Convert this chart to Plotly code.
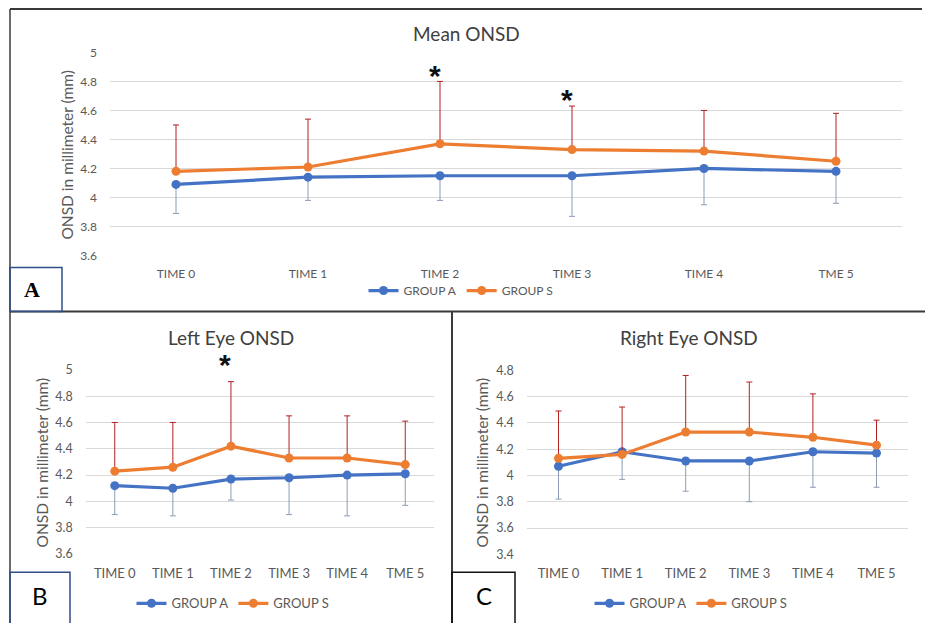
import plotly.graph_objects as go

# ---------------- data ----------------
categories = ["TIME 0", "TIME 1", "TIME 2", "TIME 3", "TIME 4", "TME 5"]

mean_a = [4.09, 4.14, 4.15, 4.15, 4.20, 4.18]
mean_a_err_minus = [0.20, 0.16, 0.17, 0.28, 0.25, 0.22]
mean_s = [4.18, 4.21, 4.37, 4.33, 4.32, 4.25]
mean_s_err_plus = [0.32, 0.33, 0.43, 0.30, 0.28, 0.33]

left_a = [4.12, 4.10, 4.17, 4.18, 4.20, 4.21]
left_a_err_minus = [0.22, 0.21, 0.16, 0.28, 0.31, 0.24]
left_s = [4.23, 4.26, 4.42, 4.33, 4.33, 4.28]
left_s_err_plus = [0.37, 0.34, 0.49, 0.32, 0.32, 0.33]

right_a = [4.07, 4.18, 4.11, 4.11, 4.18, 4.17]
right_a_err_minus = [0.25, 0.21, 0.23, 0.31, 0.27, 0.26]
right_s = [4.13, 4.16, 4.33, 4.33, 4.29, 4.23]
right_s_err_plus = [0.36, 0.36, 0.43, 0.38, 0.33, 0.19]

no_err = [0, 0, 0, 0, 0, 0]

yticks_ab = [3.6, 3.8, 4.0, 4.2, 4.4, 4.6, 4.8, 5.0]
yticktext_ab = ["3.6", "3.8", "4", "4.2", "4.4", "4.6", "4.8", "5"]
yticks_c = [3.4, 3.6, 3.8, 4.0, 4.2, 4.4, 4.6, 4.8]
yticktext_c = ["3.4", "3.6", "3.8", "4", "4.2", "4.4", "4.6", "4.8"]

star_a = ["TIME 2", "TIME 3"]
star_b = ["TIME 2"]

titles = ["Mean ONSD", "Left Eye ONSD", "Right Eye ONSD"]
ytitle = "ONSD in millimeter (mm)"
group_names = ["GROUP A", "GROUP S"]

# ---------------- styling ----------------
W, H = 925, 623
FONT = "Lato"
BLUE = "#4472C4"
ORANGE = "#ED7D31"
RED_ERR = "#B42020"
BLUE_ERR = "#8C9DB5"
GRID = "#D9D9D9"
TXT = "#595959"

# vertical calibration of the photographed page
VS, VO = 0.9765, 7.3


def fx(px):
    return px / W


def fy(py):
    return 1 - ((py - VO) / VS) / H


def sh(px):
    return px / VS


fig = go.Figure()

panels = [
    ("", 110, 902, 51.7, 255, [3.6, 5.0], yticks_ab, yticktext_ab,
     (mean_a, mean_a_err_minus, mean_s, mean_s_err_plus), "legend", 12, 12, 9, 12),
    ("2", 85.7, 434.3, 369.3, 553.7, [3.6, 5.0], yticks_ab, yticktext_ab,
     (left_a, left_a_err_minus, left_s, left_s_err_plus), "legend2", 13, 12.5, 10, 12),
    ("3", 526.7, 908.3, 369.7, 554, [3.4, 4.8], yticks_c, yticktext_c,
     (right_a, right_a_err_minus, right_s, right_s_err_plus), "legend3", 13, 12.5, 10, 12),
]

layout_axes = {}
for suf, x0, x1, yt, yb, rng, tv, tt, dat, leg, fsx, fsy, sox, soy in panels:
    ga, ga_err, gs, gs_err = dat
    xa = "x" + suf
    ya = "y" + suf
    fig.add_trace(go.Scatter(
        x=categories, y=ga, name=group_names[0], mode="lines+markers",
        xaxis=xa, yaxis=ya, legend=leg,
        line=dict(color=BLUE, width=3.2), marker=dict(color=BLUE, size=9),
        error_y=dict(type="data", symmetric=False, array=no_err,
                     arrayminus=ga_err, color=BLUE_ERR, thickness=1, width=3),
    ))
    fig.add_trace(go.Scatter(
        x=categories, y=gs, name=group_names[1], mode="lines+markers",
        xaxis=xa, yaxis=ya, legend=leg,
        line=dict(color=ORANGE, width=3.2), marker=dict(color=ORANGE, size=9),
        error_y=dict(type="data", symmetric=False, array=gs_err,
                     arrayminus=no_err, color=RED_ERR, thickness=1, width=3),
    ))
    eps = 1e-4
    layout_axes["xaxis" + suf] = dict(
        domain=[fx(x0), fx(x1)], anchor=ya, type="category",
        range=[-0.5, 5.5], showgrid=False, showline=False, zeroline=False,
        ticks="", tickfont=dict(family=FONT, size=fsx, color=TXT),
        ticklabelstandoff=sox, fixedrange=True,
    )
    layout_axes["yaxis" + suf] = dict(
        domain=[fy(yb), fy(yt)], anchor=xa,
        range=[rng[0] - eps, rng[1] + eps], tickvals=tv, ticktext=tt,
        showgrid=True, gridcolor=GRID, gridwidth=1, showline=False,
        zeroline=False, ticks="", ticklabelstandoff=soy,
        tickfont=dict(family=FONT, size=fsy, color=TXT), fixedrange=True,
    )

fig.update_layout(**layout_axes)

annotations = []
star_font = dict(family="Liberation Sans", size=30, color="#111")
for c in star_a:
    i = categories.index(c)
    annotations.append(dict(x=c, y=mean_s[i] + mean_s_err_plus[i], xref="x", yref="y",
                            text="<b>*</b>", showarrow=False, yanchor="middle",
                            xshift=-5, yshift=sh(6), font=star_font))
for c in star_b:
    i = categories.index(c)
    annotations.append(dict(x=c, y=left_s[i] + left_s_err_plus[i], xref="x2", yref="y2",
                            text="<b>*</b>", showarrow=False, yanchor="middle",
                            xshift=-6, yshift=sh(17), font=star_font))

for t, (cx, cy) in zip(titles, [(467, 33), (231, 337), (689, 337)]):
    annotations.append(dict(x=fx(cx), y=fy(cy), xref="paper", yref="paper", text=t,
                            showarrow=False, xanchor="center", yanchor="middle",
                            font=dict(family=FONT, size=19, color="#404040")))
for (cx, cy) in [(67, 154), (42, 462), (482, 462)]:
    annotations.append(dict(x=fx(cx), y=fy(cy), xref="paper", yref="paper", text=ytitle,
                            showarrow=False, textangle=-90, xanchor="center",
                            yanchor="middle",
                            font=dict(family=FONT, size=15.5, color=TXT)))
annotations.append(dict(x=fx(32), y=fy(289), xref="paper", yref="paper", text="<b>A</b>",
                        showarrow=False, xanchor="center", yanchor="middle",
                        font=dict(family="Liberation Serif", size=22, color="#000")))
annotations.append(dict(x=fx(40), y=fy(595), xref="paper", yref="paper", text="B",
                        showarrow=False, xanchor="center", yanchor="middle",
                        font=dict(family=FONT, size=24, color="#000")))
annotations.append(dict(x=fx(484), y=fy(595), xref="paper", yref="paper", text="C",
                        showarrow=False, xanchor="center", yanchor="middle",
                        font=dict(family=FONT, size=24, color="#000")))

frame = "#3A3A3A"
shapes = [
    dict(type="line", xref="paper", yref="paper", x0=fx(10), x1=fx(922), y0=fy(8.3), y1=fy(8.3),
         line=dict(color=frame, width=2)),
    dict(type="line", xref="paper", yref="paper", x0=fx(10), x1=fx(10), y0=fy(8.3), y1=fy(640),
         line=dict(color=frame, width=1.5)),
    dict(type="line", xref="paper", yref="paper", x0=fx(10), x1=fx(925), y0=fy(311), y1=fy(311),
         line=dict(color=frame, width=2)),
    dict(type="line", xref="paper", yref="paper", x0=fx(452), x1=fx(452), y0=fy(311), y1=fy(640),
         line=dict(color=frame, width=2)),
    dict(type="rect", xref="paper", yref="paper", x0=fx(10), x1=fx(62), y0=fy(311), y1=fy(267),
         line=dict(color="#2F4F86", width=1.5)),
    dict(type="rect", xref="paper", yref="paper", x0=fx(10), x1=fx(70), y0=fy(640), y1=fy(572),
         line=dict(color="#2F4F86", width=1.5)),
    dict(type="rect", xref="paper", yref="paper", x0=fx(452), x1=fx(515), y0=fy(640), y1=fy(572),
         line=dict(color="#111", width=1.5)),
]

leg_common = dict(orientation="h", xanchor="center", yanchor="middle",
                  bgcolor="rgba(0,0,0,0)", borderwidth=0, itemclick=False,
                  itemdoubleclick=False, tracegroupgap=0)
leg_font_a = dict(family=FONT, size=12, color=TXT)
leg_font_bc = dict(family=FONT, size=13, color=TXT)

fig.update_layout(
    width=W, height=H, margin=dict(l=0, r=0, t=0, b=0, pad=0),
    paper_bgcolor="white", plot_bgcolor="white",
    showlegend=True,
    legend=dict(x=fx(461), y=fy(290), font=leg_font_a, **leg_common),
    legend2=dict(x=fx(233), y=fy(603), font=leg_font_bc, **leg_common),
    legend3=dict(x=fx(691), y=fy(603), font=leg_font_bc, **leg_common),
    annotations=annotations, shapes=shapes,
)

fig.write_html(
    "out.html",
    config={"displayModeBar": False},
    post_script="document.body.style.margin='0';document.body.style.overflow='hidden';",
)
